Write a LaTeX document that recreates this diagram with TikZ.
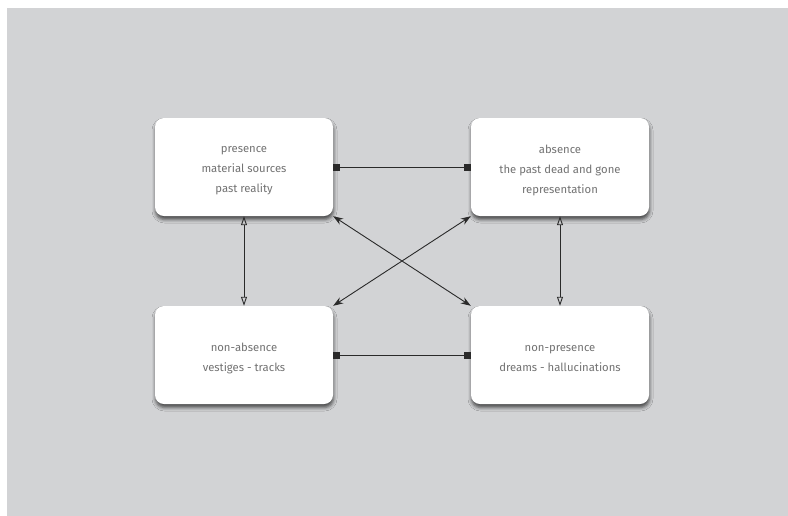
\documentclass[tikz,border=0pt]{standalone}
\usepackage{fontspec}
\setmainfont{Fira Sans}
\usetikzlibrary{arrows.meta,shadows.blur}
\definecolor{bggray}{HTML}{D2D3D5}
\definecolor{txtgray}{HTML}{727272}
\definecolor{linegray}{HTML}{2A2A2A}
\newcommand\lowtxt[1]{\raisebox{-3.5pt}[\height][\depth]{#1}}
\begin{document}
\begin{tikzpicture}[x=1pt,y=-1pt,
  card/.style={rectangle, fill=white, rounded corners=9pt,
    minimum width=178pt, minimum height=98pt, align=center,
    text=txtgray, font=\fontsize{11.3}{20}\selectfont,
    blur shadow={shadow xshift=0.5pt, shadow yshift=-3.5pt, shadow blur radius=3.5pt, shadow opacity=65}},
  link/.style={draw=linegray, line width=0.9pt},
  sq/.style={link, {Square[length=7pt,width=7pt]}-{Square[length=7pt,width=7pt]}},
  tri/.style={link, {Triangle[open,length=9pt,width=6pt]}-{Triangle[open,length=9pt,width=6pt]}},
  stl/.style={link, {Stealth[length=10pt,width=7pt]}-{Stealth[length=10pt,width=7pt]}}]
\useasboundingbox (0,0) rectangle (788,515);
\fill[white] (-5,-5) rectangle (795,520);
\fill[bggray] (7,8) rectangle (800,530);
\node[card] (A) at (244,167) {\lowtxt{presence}\\\lowtxt{material sources}\\\lowtxt{past reality}};
\node[card] (B) at (560,167) {\lowtxt{absence}\\\lowtxt{the past dead and gone}\\\lowtxt{representation}};
\node[card] (C) at (244,355) {\lowtxt{non-absence}\\\lowtxt{vestiges - tracks}};
\node[card] (D) at (560,355) {\lowtxt{non-presence}\\\lowtxt{dreams - hallucinations}};
\draw[sq] (A.east) -- (B.west);
\draw[sq] (C.east) -- (D.west);
\draw[tri] (A.south) -- (C.north);
\draw[tri] (B.south) -- (D.north);
\draw[stl] (A.south east) -- (D.north west);
\draw[stl] (B.south west) -- (C.north east);
\end{tikzpicture}
\end{document}
